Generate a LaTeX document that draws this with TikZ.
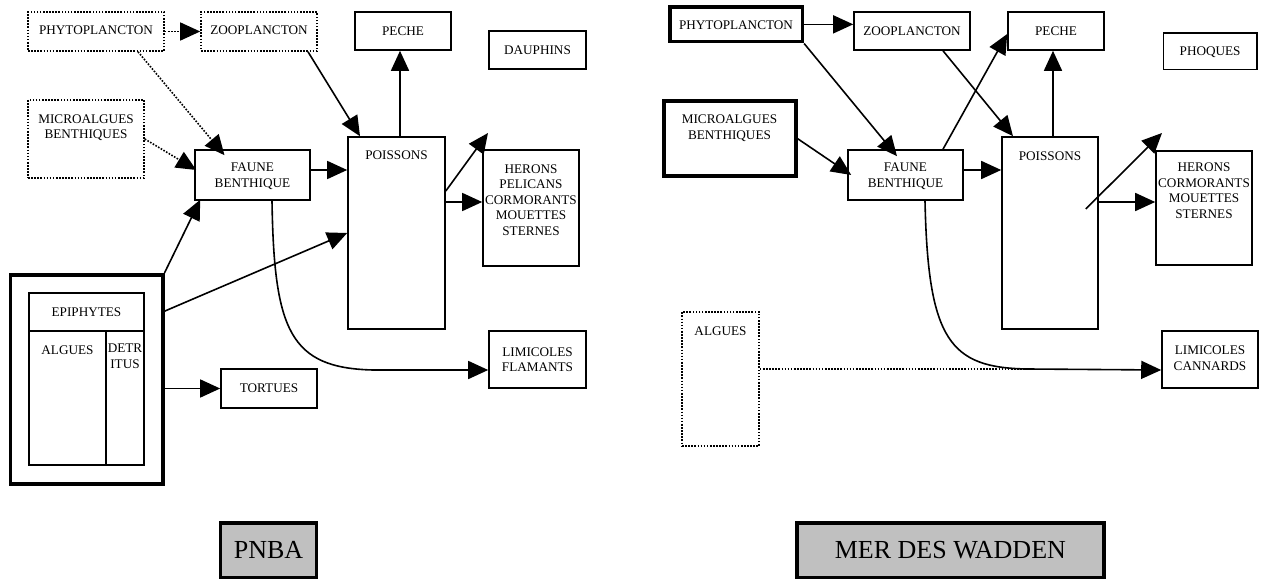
\documentclass[tikz,border=0pt]{standalone}
\usepackage{fontspec}
\setmainfont{Liberation Serif}
\usetikzlibrary{arrows.meta,fit}
\definecolor{lblgray}{HTML}{C0C0C0}
\begin{document}
\begin{tikzpicture}[x=1pt,y=-1pt,
  every node/.style={font=\fontsize{13.2}{15.6}\selectfont},
  box/.style={draw, line width=1.6pt, inner sep=0pt},
  thickbox/.style={draw, line width=3.6pt, inner sep=0pt},
  dotbox/.style={draw, line width=1.6pt, inner sep=0pt, dash pattern=on 1.6pt off 1.5pt},
  txt/.style={align=center, inner sep=0pt, text height=8.7pt, text depth=0pt},
  mtxt/.style={align=center, inner sep=0pt, anchor=base},
  bigtxt/.style={inner sep=0pt, font=\fontsize{26}{30}\selectfont, text height=17.2pt, text depth=0pt},
  conn/.style={line width=1.6pt, -{Triangle[length=20pt,width=18pt]}},
  dotconn/.style={conn, dash pattern=on 1.6pt off 1.5pt},
  dotline/.style={line width=1.6pt, dash pattern=on 1.6pt off 1.5pt},
]
\useasboundingbox (0,0) rectangle (1261,580);

% ---------------- left diagram (PNBA) ----------------
\node[dotbox, fit={(28,12)(164,51)}] (phytoL) {};
\node[txt] (phytoLt) at (96,30.5) {PHYTOPLANCTON};
\node[dotbox, fit={(201,12)(317,51)}] (zooL) {};
\node[txt] (zooLt) at (259,30.5) {ZOOPLANCTON};
\node[box, fit={(355,12)(451,50)}] (pecheL) {};
\node[txt] (pecheLt) at (pecheL.center) {PECHE};
\node[box, fit={(489,31)(586,69)}] (dauph) {};
\node[txt] (dauphT) at (dauph.center) {DAUPHINS};
\node[dotbox, fit={(28,100)(144,178)}] (microL) {};
\node[mtxt] (microLt) at (86,138.65) {MICROALGUES\\BENTHIQUES};
\node[box, fit={(195,150)(310,200)}] (fauneL) {};
\node[mtxt] (fauneLt) at (252.5,187.15) {FAUNE\\BENTHIQUE};
\node[box, fit={(348,137)(445,329)}] (poisL) {};
\node[txt] (poisLt) at (396.5,155.5) {POISSONS};
\node[box, fit={(483,150)(579,266)}] (heronsL) {};
\node[mtxt] (heronsLt) at (531,235.5) {HERONS\\PELICANS\\CORMORANTS\\MOUETTES\\STERNES};
\node[box, fit={(489,331)(586,388)}] (limL) {};
\node[mtxt] (limLt) at (537.5,371.6) {LIMICOLES\\FLAMANTS};
\node[thickbox, fit={(10.3,274.7)(162.7,483.7)}] (outer) {};
\node[box, fit={(29,293)(144,331)}] (epi) {};
\node[txt] (epiT) at (epi.center) {EPIPHYTES};
\node[box, fit={(29,331)(144,465)}] (lower) {};
\draw[line width=1.6pt] ([xshift=19.5pt]lower.north) -- ([xshift=19.5pt]lower.south);
\node[txt] (alguesLt) at (67.5,350) {ALGUES};
\node[mtxt] (detrT) at (125,368.1) {DETR\\ITUS};
\node[box, fit={(221,369)(317,408)}] (tort) {};
\node[txt] (tortT) at (tort.center) {TORTUES};
\node[thickbox, fill=lblgray, fit={(220.5,523)(316.5,577.5)}] (pnba) {};
\node[bigtxt] (pnbaT) at (pnba.center) {PNBA};

\coordinate (diagL) at (488,133);
\coordinate (bendL) at (373,370);

\draw[dotconn] (phytoL.east) -- (zooL.west);
\draw[dotconn] ([xshift=42pt]phytoL.south) -- ([xshift=-28pt,yshift=-6pt]fauneL.north);
\draw[dotconn] (microL.east) -- ([xshift=2pt,yshift=5pt]fauneL.west);
\draw[conn] ([xshift=49pt]zooL.south) -- ([xshift=-36.5pt]poisL.north);
\draw[conn] ([yshift=5pt]fauneL.east) -- ([yshift=5pt]fauneL.east -| poisL.west);
\draw[conn] ([xshift=3.5pt]poisL.north) -- ([xshift=3.5pt]poisL.north |- pecheL.south);
\draw[conn] ([yshift=42pt]poisL.east) -- (diagL);
\draw[conn] ([yshift=6pt]heronsL.west -| poisL.east) -- ([yshift=6pt]heronsL.west);
\draw[conn] ([xshift=19.5pt]fauneL.south) .. controls +(2,130) and +(-83,-2) .. (bendL) -- ([yshift=-10.5pt]limL.west);
\draw[conn] (outer.north east) -- ([xshift=6pt,yshift=1pt]fauneL.south west);
\draw[conn] ([yshift=68pt]outer.east) -- (poisL.west);
\draw[conn] (outer.east |- tort.west) -- (tort.west);

% ---------------- right diagram (MER DES WADDEN) ----------------
\node[thickbox, fit={(670,7)(802.3,41.7)}] (phytoR) {};
\node[txt] (phytoRt) at (736,25) {PHYTOPLANCTON};
\node[box, fit={(854,12)(970,50)}] (zooR) {};
\node[txt] (zooRt) at (zooR.center) {ZOOPLANCTON};
\node[box, fit={(1008,12)(1104,50)}] (pecheR) {};
\node[txt] (pecheRt) at (pecheR.center) {PECHE};
\node[box, fit={(1163.5,32.8)(1256.7,69.5)}] (phoq) {};
\node[txt] (phoqT) at (phoq.center) {PHOQUES};
\node[thickbox, fit={(663.7,101.3)(796,176.3)}] (microR) {};
\node[mtxt] (microRt) at (729.5,139.6) {MICROALGUES\\BENTHIQUES};
\node[box, fit={(848,150)(963,200)}] (fauneR) {};
\node[mtxt] (fauneRt) at (905.5,187.15) {FAUNE\\BENTHIQUE};
\node[box, fit={(1002,137)(1098,329)}] (poisR) {};
\node[txt] (poisRt) at (1050,156.5) {POISSONS};
\node[box, fit={(1156,151)(1252,265)}] (heronsR) {};
\node[mtxt] (heronsRt) at (1204,218.2) {HERONS\\CORMORANTS\\MOUETTES\\STERNES};
\node[box, fit={(1162,331)(1258,388)}] (limR) {};
\node[mtxt] (limRt) at (1210,370.1) {LIMICOLES\\CANNARDS};
\node[dotbox, fit={(682,312)(759,446)}] (alguesR) {};
\node[txt] (alguesRt) at (720.5,331) {ALGUES};
\node[thickbox, fill=lblgray, fit={(797,523)(1103.7,577.5)}] (mer) {};
\node[bigtxt] (merT) at (mer.center) {MER DES WADDEN};

\coordinate (diagR) at (1162,133);
\coordinate (bendR) at (1028,369);

\draw[conn] (phytoR.east) -- (phytoR.east -| zooR.west);
\draw[conn] (phytoR.south east) -- ([xshift=-8.5pt,yshift=-7pt]fauneR.north);
\draw[conn] (microR.east) -- ([xshift=4pt]fauneR.west);
\draw[conn] ([xshift=31pt]zooR.south) -- ([xshift=-37pt]poisR.north);
\draw[conn] ([xshift=37.5pt]fauneR.north) -- ([yshift=-3pt]pecheR.west);
\draw[conn] ([xshift=3pt]poisR.north) -- ([xshift=3pt]poisR.north |- pecheR.south);
\draw[conn] ([yshift=5pt]fauneR.east) -- ([yshift=5pt]fauneR.east -| poisR.west);
\draw[conn] ([xshift=-13pt,yshift=24pt]poisR.east) -- (diagR);
\draw[conn] ([yshift=6pt]heronsR.west -| poisR.east) -- ([yshift=6pt]heronsR.west);
\draw[dotline] ([yshift=10pt]alguesR.east) -- (bendR);
\draw[conn] ([xshift=19.5pt]fauneR.south) .. controls +(3,140) and +(-78,-1) .. (bendR) -- ([yshift=-10.5pt]limR.west);
\end{tikzpicture}
\end{document}
